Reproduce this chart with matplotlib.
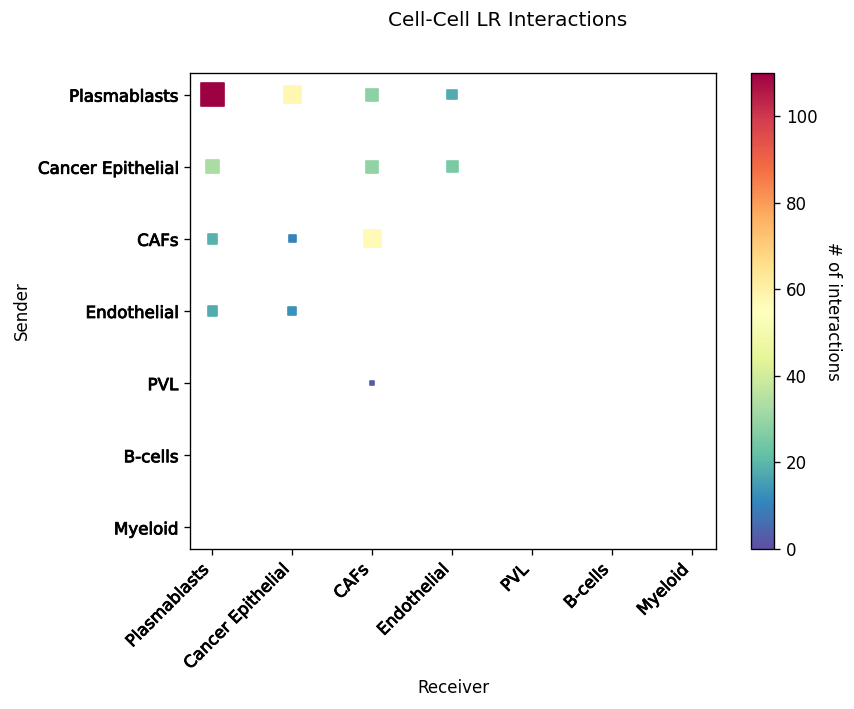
import matplotlib
matplotlib.use("Agg")
import matplotlib.pyplot as plt
import matplotlib.patheffects as pe
import numpy as np

cell_types = ["Plasmablasts", "Cancer Epithelial", "CAFs", "Endothelial", "PVL", "B-cells", "Myeloid"]

senders = ["Plasmablasts", "Plasmablasts", "Plasmablasts", "Plasmablasts",
           "Cancer Epithelial", "Cancer Epithelial", "Cancer Epithelial",
           "CAFs", "CAFs", "CAFs",
           "Endothelial", "Endothelial",
           "PVL"]
receivers = ["Plasmablasts", "Cancer Epithelial", "CAFs", "Endothelial",
             "Plasmablasts", "CAFs", "Endothelial",
             "Plasmablasts", "Cancer Epithelial", "CAFs",
             "Plasmablasts", "Cancer Epithelial",
             "CAFs"]
counts = [110, 58, 28, 18,
          33, 29, 25,
          19, 10, 57,
          18, 13,
          3]

W, H = 854, 709
fig = plt.figure(figsize=(W/120, H/120), dpi=120)
ax = fig.add_axes([190/W, 1-549/H, 526/W, 476/H])
cax = fig.add_axes([751/W, 1-549/H, 23/W, 476/H])

xi = [cell_types.index(r) for r in receivers]
yi = [cell_types.index(s) for s in senders]
sc = ax.scatter(xi, yi, c=counts, s=np.array(counts)*1.8, marker="s",
                cmap="Spectral_r", vmin=0, vmax=110, edgecolors="face")

ax.set_xlim(-0.28, 6.3)
ax.set_ylim(6.3, -0.3)
ax.set_xticks(range(len(cell_types)))
ax.set_yticks(range(len(cell_types)))
stroke = [pe.withStroke(linewidth=0.5, foreground="black")]
ax.set_xticklabels(cell_types, rotation=45, ha="right")
ax.set_yticklabels(cell_types)
for t in ax.get_xticklabels() + ax.get_yticklabels():
    t.set_path_effects(stroke)
ax.set_xlabel("Receiver")
ax.set_ylabel("Sender")

cb = fig.colorbar(sc, cax=cax)
cb.set_label("# of interactions", rotation=270, labelpad=15)

fig.text(508/W, 1-20/H, "Cell-Cell LR Interactions", ha="center", va="center", fontsize=12)

fig.savefig("out.png", dpi=120)
